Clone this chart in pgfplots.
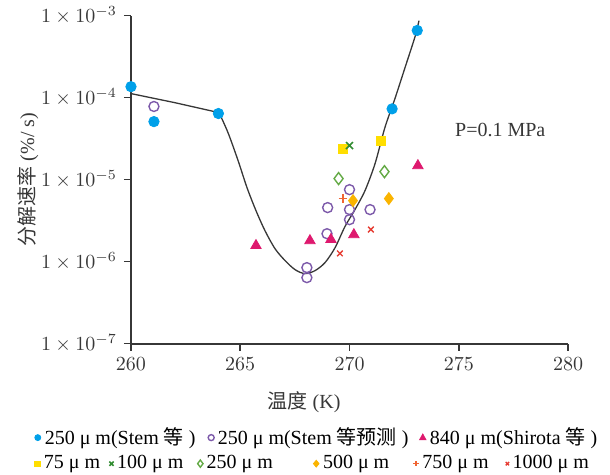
\documentclass[border=0pt]{standalone}
\usepackage{pgfplots}
\pgfplotsset{compat=1.18}
\usepackage{fontspec}
\setmainfont{Liberation Serif}
\newfontfamily\cjk{Noto Sans CJK SC}
\usetikzlibrary{calc}

\definecolor{cBlue}{RGB}{0,160,233}
\definecolor{cPurple}{RGB}{125,90,170}
\definecolor{cMag}{RGB}{222,25,110}
\definecolor{cYel}{RGB}{255,222,0}
\definecolor{cGreen}{RGB}{50,140,50}
\definecolor{cLGreen}{RGB}{100,170,70}
\definecolor{cOrange}{RGB}{250,180,0}
\definecolor{cOrR}{RGB}{240,100,50}
\definecolor{cRed}{RGB}{230,60,50}
\definecolor{cAxis}{RGB}{55,55,55}

\pgfplotsset{
  sBlue/.style={only marks, mark=*, mark size=2.6pt, color=cBlue,
    legend image code/.code={\fill[cBlue] (1.6pt,0pt) circle (1.5pt);}},
  sPur/.style={only marks, mark=o, mark size=2.5pt, color=cPurple, mark options={line width=0.7pt}},
  sMag/.style={only marks, mark=triangle*, mark size=3pt, color=cMag,
    legend image code/.code={\fill[cMag] (1.6pt,1.8pt) -- (0pt,-1.1pt) -- (3.2pt,-1.1pt) -- cycle;}},
  sYel/.style={only marks, mark=square*, mark size=2.3pt, color=cYel,
    legend image code/.code={\fill[cYel] (0.3pt,-1.3pt) rectangle (2.9pt,1.3pt);}},
  sGx/.style={only marks, mark=x, mark size=2.5pt, color=cGreen, mark options={line width=0.8pt}},
  sGd/.style={only marks, mark=diamond, mark size=3pt, color=cLGreen, mark options={line width=0.7pt}},
  sOd/.style={only marks, mark=diamond*, mark size=3pt, color=cOrange,
    legend image code/.code={\fill[cOrange] (1.6pt,1.7pt) -- (3.0pt,0pt) -- (1.6pt,-1.7pt) -- (0.2pt,0pt) -- cycle;}},
  sPlus/.style={only marks, mark=+, mark size=2.2pt, color=cOrR, mark options={line width=0.7pt}},
  sRx/.style={only marks, mark=x, mark size=2pt, color=cRed, mark options={line width=0.7pt}},
}

\begin{document}
\begin{tikzpicture}
\begin{axis}[name=ax,
  width=218.5pt, height=164pt, scale only axis,
  xmin=260, xmax=280, ymin=1e-7, ymax=1e-3, ymode=log,
  legend image code/.code={\draw[#1,/tikz/every mark/.append style={scale=0.6}] plot coordinates {(1.7pt,0pt)};},
  legend style={draw=none, fill=none, inner sep=0pt, anchor=west,
      nodes={inner sep=0pt, text depth=0.15em}},
  axis lines*=left,
  axis line style={cAxis, line width=1pt, -},
  tick style={cAxis, line width=0.8pt},
  tick align=outside,
  major tick length=3.5pt,
  xtick={260,265,270,275,280},
  ytick={1e-7,1e-6,1e-5,1e-4,1e-3},
  yticklabels={$1\times10^{-7}$,$1\times10^{-6}$,$1\times10^{-5}$,$1\times10^{-4}$,$1\times10^{-3}$},
  yminorticks=false,
  ticklabel style={text=cAxis},
  xlabel={{\cjk 温度} (K)},
  xlabel style={at={(axis description cs:0.396,-0.18)}, anchor=center, text=cAxis},
  ylabel={{\cjk 分解速率} (\%/ s)},
  ylabel style={at={(axis description cs:-0.236,0.5)}, anchor=center, text=cAxis},
  clip=false,
  legend columns=3,
  legend style={at={(axis description cs:-0.222,-0.2866)}},
]
% curve
\addplot[cAxis, line width=0.65pt, forget plot] coordinates {
 (260.0,1.12e-4) (262.0,8.69e-5) (264.03,6.56e-5)};
\addplot[cAxis, line width=0.65pt, smooth, tension=0.5, forget plot] coordinates {
 (264.03,6.56e-5) (264.44,3.74e-5) (264.9,1.71e-5) (265.31,7.98e-6)
 (265.72,4.19e-6) (266.13,2.39e-6) (266.59,1.44e-6) (267.05,1.03e-6)
 (267.51,7.98e-7) (267.96,7.14e-7) (268.42,7.76e-7) (268.88,9.73e-7)
 (269.34,1.48e-6) (269.79,2.67e-6) (270.25,4.31e-6) (270.71,7.35e-6)
 (271.17,1.57e-5) (271.62,4.31e-5) (272.08,9.73e-5) (272.54,2.32e-4)
 (273.0,5.55e-4) (273.18,8.69e-4)};
% 250 um Stem
\addplot[sBlue] coordinates {
 (260.0,1.36e-4) (261.05,5.1e-5) (264.0,6.4e-5) (271.95,7.3e-5) (273.1,6.6e-4)};
\addlegendentry{\makebox[83.5pt][l]{\hspace{1.8pt}250 μ m(Stem {\cjk 等} )}}
% 250 um Stem predicted
\addplot[sPur] coordinates {
 (261.05,7.8e-5) (270.0,7.55e-6) (269.0,4.56e-6) (270.0,4.31e-6) (270.94,4.31e-6)
 (270.0,3.25e-6) (268.97,2.19e-6) (268.05,8.45e-7) (268.05,6.38e-7)};
\addlegendentry{\makebox[102.5pt][l]{\hspace{1.8pt}250 μ m(Stem {\cjk 等预测} )}}
% 840 um Shirota
\addplot[sMag] coordinates {
 (265.72,1.57e-6) (268.19,1.80e-6) (269.15,1.86e-6) (270.2,2.13e-6) (273.13,1.48e-5)};
\addlegendentry{\hspace{1.8pt}840 μ m(Shirota {\cjk 等} )}
\node[anchor=center, text=cAxis] at (axis cs:276.9,4.07e-5) {P=0.1 MPa};
\end{axis}
\begin{axis}[
  width=218.5pt, height=164pt, scale only axis,
  xmin=260, xmax=280, ymin=1e-7, ymax=1e-3, ymode=log,
  hide axis, clip=false,
  legend image code/.code={\draw[#1,/tikz/every mark/.append style={scale=0.6}] plot coordinates {(1.7pt,0pt)};},
  legend style={draw=none, fill=none, inner sep=0pt, anchor=west,
      nodes={inner sep=0pt, text depth=0.15em}},
  legend columns=6,
  legend style={at={(axis description cs:-0.222,-0.366)}},
]
\addplot[sYel] coordinates {(269.7,2.39e-5) (271.44,2.99e-5)};
\addlegendentry{\makebox[34.5pt][l]{\hspace{1.8pt}75 μ m}}
\addplot[sGx] coordinates {(270.0,2.6e-5)};
\addlegendentry{\makebox[42pt][l]{\hspace{1.8pt}100 μ m}}
\addplot[sGd] coordinates {(269.5,1.03e-5) (271.6,1.25e-5)};
\addlegendentry{\makebox[55pt][l]{\hspace{1.8pt}250 μ m}}
\addplot[sOd] coordinates {(270.16,5.54e-6) (271.8,5.87e-6)};
\addlegendentry{\makebox[47pt][l]{\hspace{1.8pt}500 μ m}}
\addplot[sPlus] coordinates {(269.7,5.87e-6)};
\addlegendentry{\makebox[43.5pt][l]{\hspace{1.8pt}750 μ m}}
\addplot[sRx] coordinates {(270.98,2.46e-6) (269.56,1.26e-6)};
\addlegendentry{\hspace{1.8pt}1000 μ m}
\end{axis}
\path ($(ax.south west)+(-65.5pt,-65.5pt)$) rectangle ($(ax.north east)+(21pt,6.5pt)$);
\end{tikzpicture}
\end{document}
